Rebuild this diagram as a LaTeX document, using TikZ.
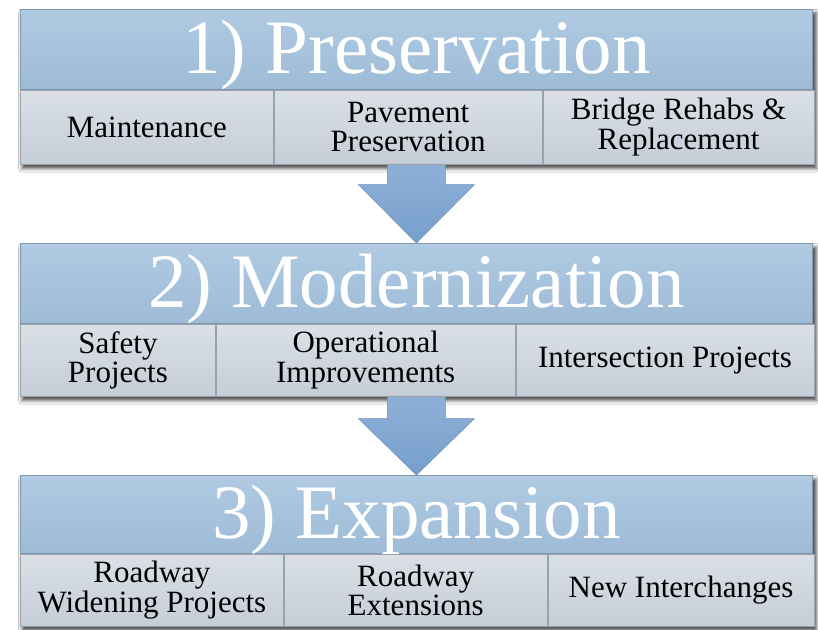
\documentclass[tikz,border=0pt]{standalone}
\usepackage{fontspec}
\setmainfont{Liberation Serif}
\usetikzlibrary{shadows.blur,calc,backgrounds}
\definecolor{bandtop}{HTML}{B0CAE2}
\definecolor{bandbot}{HTML}{9EBBD7}
\definecolor{bandedge}{HTML}{8298AE}
\definecolor{subtop}{HTML}{DAE0E6}
\definecolor{subbot}{HTML}{C5CDD7}
\definecolor{subedge}{HTML}{98A2AC}
\definecolor{arrtop}{HTML}{8EB0D7}
\definecolor{arrbot}{HTML}{769FCC}
\definecolor{arredge}{HTML}{6C8FB8}
\begin{document}
\begin{tikzpicture}[x=1bp,y=-1bp,
  band/.style={rectangle, anchor=north west, minimum width=792bp, inner sep=0pt,
    top color=bandtop, bottom color=bandbot, draw=bandedge, line width=0.8bp,
    text=white, font=\fontsize{77bp}{80bp}\selectfont, text height=52bp, text depth=4bp},
  subbox/.style={rectangle, anchor=north west, inner sep=0pt,
    top color=subtop, bottom color=subbot, draw=subedge, line width=0.8bp,
    align=center, text=black, font=\fontsize{31bp}{29.5bp}\selectfont},
  grpshadow/.style={blur shadow={shadow xshift=2bp, shadow yshift=-4bp, shadow blur radius=3.5bp, shadow opacity=70}},
  blockarrow/.style={top color=arrtop, bottom color=arrbot, draw=arredge, line width=0.5bp, line join=miter}]
\useasboundingbox (0,0) rectangle (818,630);

% Group 1
\node[band, minimum height=80bp] (t1) at (20,9) {1) Preservation};
\node[subbox, minimum width=253bp, minimum height=74bp] (s11) at (t1.south west) {Maintenance};
\node[subbox, minimum width=268bp, minimum height=74bp] (s12) at (s11.north east) {Pavement\\Preservation};
\node[subbox, minimum width=271bp, minimum height=74bp] (s13) at (s12.north east) {Bridge Rehabs \&\\Replacement};

% Group 2
\node[band, minimum height=80bp] (t2) at (20,243) {2) Modernization};
\node[subbox, minimum width=195bp, minimum height=72bp] (s21) at (t2.south west) {Safety\\Projects};
\node[subbox, minimum width=299bp, minimum height=72bp] (s22) at (s21.north east) {Operational\\Improvements};
\node[subbox, minimum width=298bp, minimum height=72bp] (s23) at (s22.north east) {Intersection Projects};

% Group 3
\node[band, minimum height=78bp] (t3) at (20,475) {3) Expansion};
\node[subbox, minimum width=263bp, minimum height=72bp] (s31) at (t3.south west) {Roadway\\Widening Projects};
\node[subbox, minimum width=263bp, minimum height=72bp] (s32) at (s31.north east) {Roadway\\Extensions};
\node[subbox, minimum width=266bp, minimum height=72bp] (s33) at (s32.north east) {New Interchanges};

\begin{pgfonlayer}{background}
  \fill[white] (0,0) rectangle (818,630);
  \path[grpshadow] (t1.north west) rectangle (s13.south east);
  \path[grpshadow] (t2.north west) rectangle (s23.south east);
  \path[grpshadow] (t3.north west) rectangle (s33.south east);
  % arrows
  \coordinate (a1s) at (t1.center |- s11.south);
  \path[blockarrow] ($(a1s)+(-29,0)$) -- ($(a1s)+(29,0)$) -- ($(a1s)+(29,20)$) -- ($(a1s)+(58,20)$)
     -- (t2.north) -- ($(a1s)+(-58,20)$) -- ($(a1s)+(-29,20)$) -- cycle;
  \coordinate (a2s) at (t2.center |- s21.south);
  \path[blockarrow] ($(a2s)+(-29,0)$) -- ($(a2s)+(29,0)$) -- ($(a2s)+(29,22)$) -- ($(a2s)+(58,22)$)
     -- (t3.north) -- ($(a2s)+(-58,22)$) -- ($(a2s)+(-29,22)$) -- cycle;
\end{pgfonlayer}
\end{tikzpicture}
\end{document}
